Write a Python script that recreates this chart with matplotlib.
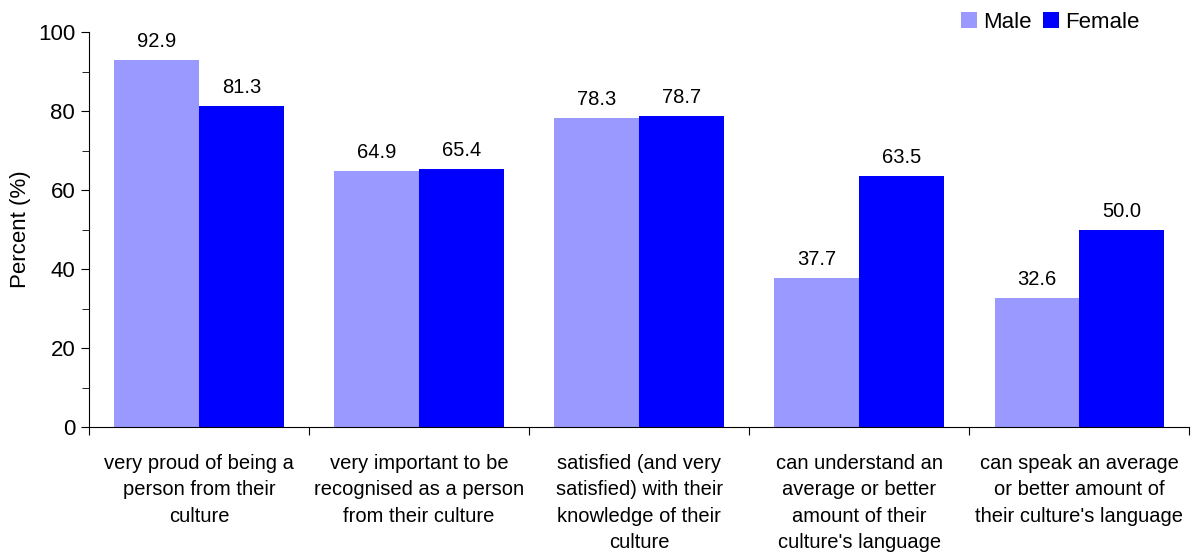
import matplotlib.pyplot as plt
import numpy as np
from matplotlib.ticker import MultipleLocator, FixedLocator

plt.rcParams["font.family"] = ["Liberation Sans", "DejaVu Sans"]

CATEGORIES = [
    "very proud of being a\nperson from their\nculture",
    "very important to be\nrecognised as a person\nfrom their culture",
    "satisfied (and very\nsatisfied) with their\nknowledge of their\nculture",
    "can understand an\naverage or better\namount of their\nculture's language",
    "can speak an average\nor better amount of\ntheir culture's language",
]
MALE = [92.9, 64.9, 78.3, 37.7, 32.6]
FEMALE = [81.3, 65.4, 78.7, 63.5, 50.0]

x = np.arange(len(CATEGORIES))
width = 0.385

fig = plt.figure(figsize=(11.92, 5.54), dpi=100)
ax = fig.add_axes([0.0747, 0.229, 0.923, 0.713])

male_bars = ax.bar(x - width / 2, MALE, width, color="#9999FF", label="Male")
female_bars = ax.bar(x + width / 2, FEMALE, width, color="#0000FF", label="Female")

for bars, vals in ((male_bars, MALE), (female_bars, FEMALE)):
    for b, v in zip(bars, vals):
        ax.text(b.get_x() + b.get_width() / 2, v + 2.3, f"{v:.1f}",
                ha="center", va="bottom", fontsize=14.5)

ax.set_xlim(-0.5, len(CATEGORIES) - 0.5)
ax.set_ylim(0, 100)
ax.yaxis.set_major_locator(MultipleLocator(20))
ax.yaxis.set_minor_locator(MultipleLocator(10))
ax.tick_params(axis="y", labelsize=16, direction="out", length=6, pad=4)
ax.tick_params(axis="y", which="minor", length=5)
ax.set_ylabel("Percent (%)", fontsize=16, labelpad=5)

# category ticks at group boundaries, labels centred on groups
ax.xaxis.set_major_locator(FixedLocator(np.arange(-0.5, len(CATEGORIES), 1)))
ax.xaxis.set_major_formatter(plt.NullFormatter())
ax.xaxis.set_minor_locator(FixedLocator(x))
ax.set_xticklabels(CATEGORIES, minor=True, fontsize=14.5, linespacing=1.5)
ax.tick_params(axis="x", which="major", length=6, direction="out")
ax.tick_params(axis="x", which="minor", length=0, pad=19)

for s in ("top", "right"):
    ax.spines[s].set_visible(False)

ax.legend(loc="upper right", bbox_to_anchor=(0.973, 1.102), ncol=2, frameon=False,
          fontsize=16, handlelength=0.7, handleheight=0.7, handletextpad=0.3,
          columnspacing=0.5)

fig.savefig("out.png", dpi=100)
